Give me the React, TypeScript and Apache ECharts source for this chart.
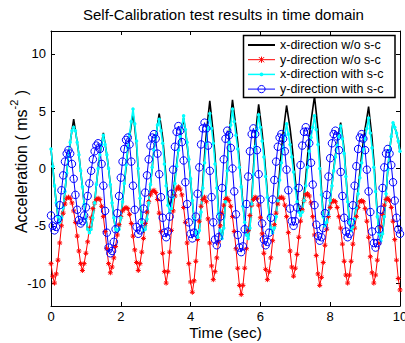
import { useEffect, useRef } from "react";
import * as echarts from "echarts";

// ---- data (sampled every SAMPLE_PERIOD seconds, t = 0 .. 10 s) ----
const SAMPLE_PERIOD = 0.05;
const X_TICKS = [0, 2, 4, 6, 8, 10];
const Y_TICKS = [-10, -5, 0, 5, 10];
const SERIES_NAMES = [
  "x-direction w/o s-c",
  "y-direction w/o s-c",
  "x-direction with s-c",
  "y-direction with s-c",
];

const X_WO_SC = [
  1.7, 0.2, -1.5, -3.0, -4.2, -4.7, -4.3, -3.4, -2.0, -0.4,
  1.1, 2.3, 3.3, 4.3, 3.3, 2.3, 1.2, -0.2, -1.6, -3.1,
  -4.4, -5.3, -5.6, -5.3, -4.3, -3.0, -1.4, 0.0, 1.2, 2.1,
  3.1, 2.1, 1.2, 0.0, -1.4, -3.0, -4.3, -5.3, -5.6, -5.3,
  -4.4, -3.0, -1.4, 0.1, 1.6, 2.7, 3.8, 4.8, 3.6, 2.1,
  -0.2, -2.7, -4.8, -5.6, -5.3, -4.4, -3.0, -1.4, 0.1, 1.6,
  2.7, 3.8, 4.8, 3.8, 2.7, 1.0, -1.0, -2.6, -3.2, -2.9,
  -2.1, -0.9, 0.4, 1.7, 2.7, 3.6, 4.4, 3.3, 2.1, 0.7,
  -1.0, -2.9, -4.4, -5.6, -6.0, -5.3, -3.6, -1.2, 1.1, 3.0,
  4.5, 5.9, 4.5, 3.0, 1.1, -1.3, -3.7, -5.4, -6.1, -5.1,
  -2.7, 0.2, 2.9, 4.5, 6.0, 4.8, 3.6, 2.3, 0.6, -1.3,
  -3.1, -4.6, -5.7, -6.1, -5.2, -2.8, 0.0, 2.6, 4.2, 5.6,
  4.4, 3.1, 1.6, -0.2, -2.2, -3.9, -5.2, -5.6, -5.2, -3.9,
  -2.3, -0.3, 1.5, 3.1, 4.3, 5.5, 4.5, 3.5, 2.2, 0.7,
  -1.0, -2.4, -3.4, -3.8, -3.4, -2.3, -0.8, 1.0, 2.7, 4.1,
  5.2, 6.3, 4.9, 3.4, 0.9, -1.8, -4.1, -5.0, -4.7, -3.9,
  -2.8, -1.4, -0.1, 1.2, 2.2, 3.1, 4.0, 2.9, 1.6, -0.5,
  -2.8, -4.6, -5.4, -5.1, -4.3, -3.2, -1.8, -0.3, 1.1, 2.4,
  3.5, 4.4, 5.4, 4.0, 2.6, 0.7, -1.6, -4.0, -5.6, -6.3,
  -5.7, -4.2, -2.2, -0.1, 1.5, 2.8, 4.0, 3.6, 3.1, 2.4,
  1.5,
];

const Y_WO_SC = [
  -8.3, -9.4, -10.0, -9.2, -8.0, -6.5, -5.0, -3.9, -3.1, -2.6,
  -2.5, -2.6, -3.0, -3.7, -4.7, -5.9, -7.2, -8.3, -8.9, -8.3,
  -7.4, -6.4, -5.2, -4.3, -3.5, -3.0, -2.7, -2.6, -2.7, -3.3,
  -4.2, -5.5, -7.0, -8.3, -9.1, -8.6, -7.8, -6.8, -5.8, -4.9,
  -4.2, -3.7, -3.5, -3.4, -3.5, -4.0, -4.8, -5.9, -7.1, -8.2,
  -8.9, -8.3, -7.3, -6.1, -4.8, -3.8, -2.9, -2.3, -2.0, -1.9,
  -2.1, -2.7, -3.9, -5.5, -7.4, -9.0, -10.0, -9.0, -7.3, -5.4,
  -3.7, -2.4, -1.8, -1.6, -1.8, -2.3, -3.4, -4.7, -6.5, -8.3,
  -9.9, -10.8, -9.8, -8.1, -6.2, -4.6, -3.3, -2.7, -2.5, -2.9,
  -4.4, -6.5, -8.5, -9.7, -9.0, -7.8, -6.4, -5.0, -3.9, -3.2,
  -2.7, -2.6, -2.8, -3.3, -4.2, -5.5, -7.0, -8.7, -10.2, -11.0,
  -10.2, -8.7, -7.0, -5.4, -4.1, -3.2, -2.7, -2.5, -2.6, -3.2,
  -4.3, -5.7, -7.4, -8.8, -9.7, -9.0, -7.8, -6.3, -4.9, -3.9,
  -3.1, -2.6, -2.5, -2.6, -3.2, -4.2, -5.6, -7.2, -8.6, -9.4,
  -8.7, -7.5, -6.0, -4.6, -3.6, -2.8, -2.3, -2.2, -2.4, -3.0,
  -4.2, -5.8, -7.6, -9.2, -10.2, -9.5, -8.2, -6.7, -5.3, -4.2,
  -3.4, -2.9, -2.8, -2.9, -3.4, -4.2, -5.2, -6.6, -8.1, -9.3,
  -10.0, -9.3, -8.1, -6.6, -5.2, -4.2, -3.4, -2.9, -2.8, -2.9,
  -3.5, -4.6, -6.0, -7.7, -9.1, -10.0, -9.3, -8.0, -6.5, -5.1,
  -4.0, -3.2, -2.7, -2.6, -2.8, -3.4, -4.6, -6.2, -8.0, -9.6,
  -10.6,
];

const X_WITH_SC = [
  1.7, 0.2, -1.5, -3.0, -4.2, -4.7, -4.3, -3.4, -2.0, -0.4,
  1.1, 2.3, 3.3, 3.6, 3.3, 2.3, 1.2, -0.2, -1.6, -3.1,
  -4.4, -5.3, -5.6, -5.3, -4.3, -3.0, -1.4, 0.0, 1.2, 2.1,
  2.9, 2.1, 1.2, 0.0, -1.4, -3.0, -4.3, -5.3, -5.4, -5.3,
  -4.3, -2.9, -1.3, 0.3, 1.8, 3.0, 4.1, 5.2, 3.9, 2.4,
  0.0, -2.6, -4.7, -5.4, -5.3, -4.4, -3.0, -1.4, 0.1, 1.6,
  2.7, 3.8, 4.3, 3.3, 2.2, 0.4, -1.5, -3.2, -3.8, -3.5,
  -2.5, -1.3, 0.2, 1.6, 2.8, 3.7, 4.6, 3.4, 2.3, 0.8,
  -0.9, -2.8, -4.4, -5.6, -6.0, -5.4, -3.8, -1.7, 0.5, 2.2,
  3.5, 4.8, 3.5, 2.2, 0.4, -1.7, -3.9, -5.4, -6.1, -5.2,
  -2.9, -0.2, 2.3, 3.8, 5.2, 4.1, 2.9, 1.7, 0.1, -1.6,
  -3.3, -4.7, -5.8, -6.1, -5.2, -3.1, -0.5, 1.9, 3.4, 4.7,
  3.6, 2.4, 1.0, -0.7, -2.5, -4.1, -5.2, -5.6, -5.2, -4.2,
  -2.8, -1.0, 0.5, 1.8, 2.9, 3.9, 3.0, 2.1, 1.0, -0.3,
  -1.7, -2.9, -3.8, -4.1, -3.8, -2.8, -1.5, 0.1, 1.5, 2.7,
  3.6, 4.6, 3.4, 2.1, 0.0, -2.3, -4.2, -5.0, -4.7, -4.0,
  -2.8, -1.5, -0.2, 1.0, 2.0, 2.8, 3.7, 2.6, 1.3, -0.7,
  -2.9, -4.7, -5.4, -5.1, -4.4, -3.4, -2.2, -0.8, 0.5, 1.7,
  2.6, 3.5, 4.4, 3.1, 1.8, 0.1, -2.0, -4.2, -5.7, -6.3,
  -5.7, -4.2, -2.2, -0.1, 1.5, 2.8, 4.0, 3.6, 3.1, 2.4,
  1.5,
];

const Y_WITH_SC = [
  -4.1, -5.0, -5.4, -5.1, -4.4, -3.2, -1.9, -0.6, 0.6, 1.3,
  1.6, 1.3, 0.4, -0.9, -2.3, -3.6, -4.5, -4.8, -4.6, -4.1,
  -3.4, -2.4, -1.3, -0.2, 0.8, 1.5, 2.0, 2.2, 1.7, 0.4,
  -1.5, -3.7, -5.6, -6.9, -7.4, -7.2, -6.4, -5.3, -3.9, -2.4,
  -0.8, 0.6, 1.7, 2.5, 2.7, 2.1, 0.6, -1.5, -3.6, -5.1,
  -5.7, -5.4, -4.7, -3.5, -2.1, -0.6, 0.8, 2.0, 2.7, 3.0,
  2.6, 1.3, -0.5, -2.5, -4.3, -5.6, -6.0, -5.5, -4.2, -2.2,
  -0.1, 1.9, 3.2, 3.7, 3.3, 2.3, 0.7, -1.2, -3.1, -4.7,
  -5.7, -6.1, -5.6, -4.2, -2.2, 0.1, 2.1, 3.5, 4.0, 3.5,
  2.0, -0.2, -2.5, -4.7, -6.2, -6.7, -6.0, -4.2, -1.7, 0.8,
  2.6, 3.3, 2.9, 1.8, 0.0, -2.0, -4.0, -5.8, -6.9, -7.3,
  -6.8, -5.3, -3.1, -0.7, 1.5, 3.0, 3.5, 3.0, 1.6, -0.5,
  -2.7, -4.8, -6.2, -6.7, -6.4, -5.6, -4.3, -2.7, -1.0, 0.6,
  1.9, 2.7, 3.0, 2.6, 1.5, -0.1, -1.9, -3.5, -4.6, -5.0,
  -4.6, -3.4, -1.7, 0.3, 2.0, 3.2, 3.6, 3.2, 2.2, 0.5,
  -1.4, -3.2, -4.9, -5.9, -6.3, -6.0, -5.2, -3.9, -2.3, -0.7,
  0.9, 2.2, 3.0, 3.3, 2.8, 1.6, -0.3, -2.4, -4.3, -5.5,
  -6.0, -5.7, -4.7, -3.2, -1.5, 0.2, 1.7, 2.7, 3.0, 2.6,
  1.6, -0.1, -2.0, -3.8, -5.5, -6.5, -6.9, -6.5, -5.3, -3.6,
  -1.7, 0.1, 1.3, 1.7, 1.3, 0.3, -1.2, -2.8, -4.3, -5.3,
  -5.7,
];

const FONT = "'Liberation Sans', Arial, Helvetica, sans-serif";
const ASTERISK = "path://M1.5,1.5L8.5,8.5M8.5,1.5L1.5,8.5M5,0L5,10M0,5L10,5";
const COLORS = ["#000000", "#ff0000", "#00ffff", "#0000ff"];

function legendGraphic() {
  const Z = 100;
  const els: any[] = [
    {
      type: "rect",
      z: Z,
      shape: { x: 243.5, y: 35.5, width: 151.5, height: 62 },
      style: { fill: "#fff", stroke: "#000", lineWidth: 1.5 },
    },
  ];
  const lineWidths = [2, 1, 1.5, 1];
  SERIES_NAMES.forEach((name, i) => {
    const cy = 45 + 14.7 * i;
    const cx = 261.5;
    els.push({
      type: "line",
      z: Z + 1,
      shape: { x1: 248, y1: cy, x2: 275, y2: cy },
      style: { stroke: COLORS[i], lineWidth: lineWidths[i] },
    });
    if (i === 1) {
      const r = 2.6;
      [
        [cx - r, cy - r, cx + r, cy + r],
        [cx - r, cy + r, cx + r, cy - r],
        [cx, cy - r - 0.5, cx, cy + r + 0.5],
      ].forEach(([x1, y1, x2, y2]) =>
        els.push({
          type: "line",
          z: Z + 2,
          shape: { x1, y1, x2, y2 },
          style: { stroke: COLORS[1], lineWidth: 1 },
        })
      );
    } else if (i === 2) {
      els.push({
        type: "circle",
        z: Z + 2,
        shape: { cx, cy, r: 1.8 },
        style: { fill: COLORS[2], stroke: "none" },
      });
    } else if (i === 3) {
      els.push({
        type: "circle",
        z: Z + 2,
        shape: { cx, cy, r: 3.6 },
        style: { fill: "none", stroke: COLORS[3], lineWidth: 1 },
      });
    }
    els.push({
      type: "text",
      z: Z + 2,
      x: 280,
      y: cy,
      style: {
        text: name,
        fill: "#000",
        font: `12.5px ${FONT}`,
        textVerticalAlign: "middle",
        verticalAlign: "middle",
      },
    });
  });
  return els;
}

export default function App() {
  const ref = useRef<HTMLDivElement>(null);

  useEffect(() => {
    document.body.style.margin = "0";
    const chart = echarts.init(ref.current as HTMLDivElement, null, { renderer: "svg" });
    const time = X_WO_SC.map((_, i) => Math.round(i * SAMPLE_PERIOD * 100) / 100);
    const pts = (arr: number[]) => arr.map((v, i) => [time[i], v]);

    const axisLine = { show: true, onZero: false, lineStyle: { color: "#000", width: 1 } };
    const tick = { show: true, inside: true, length: 4, lineStyle: { color: "#000", width: 1 } };

    chart.setOption({
      animation: false,
      backgroundColor: "#fff",
      title: {
        text: "Self-Calibration test results in time domain",
        left: 83,
        top: 7,
        padding: 0,
        textStyle: { fontSize: 15, fontWeight: "normal", color: "#000", fontFamily: FONT },
      },
      grid: { left: 51, right: 5, top: 31, bottom: 37, containLabel: false, outerBoundsMode: "none" },
      xAxis: [
        {
          type: "value",
          min: 0,
          max: 10,
          interval: 2,
          position: "bottom",
          axisLine,
          axisTick: tick,
          axisLabel: { color: "#000", fontSize: 13, margin: 4, fontFamily: FONT, customValues: X_TICKS },
          splitLine: { show: false },
          name: "Time (sec)",
          nameLocation: "middle",
          nameGap: 18,
          nameMoveOverlap: false,
          nameTextStyle: { fontSize: 15.5, color: "#000", fontFamily: FONT },
        },
        {
          type: "value",
          min: 0,
          max: 10,
          interval: 2,
          position: "top",
          axisLine,
          axisTick: tick,
          axisLabel: { show: false },
          splitLine: { show: false },
        },
      ],
      yAxis: [
        {
          type: "value",
          min: -12,
          max: 12,
          position: "left",
          axisLine,
          axisTick: { ...tick, customValues: Y_TICKS },
          axisLabel: { color: "#000", fontSize: 13, margin: 5, fontFamily: FONT, customValues: Y_TICKS },
          splitLine: { show: false },
          name: "{a|Acceleration ( ms}{b|-2}{a| )}",
          nameLocation: "middle",
          nameGap: 22,
          nameMoveOverlap: false,
          nameTextStyle: {
            color: "#000",
            fontFamily: FONT,
            fontSize: 16,
            padding: [0, 0, 0, 14],
            rich: {
              a: { fontSize: 16, fontFamily: FONT, color: "#000", verticalAlign: "bottom", lineHeight: 21 },
              b: { fontSize: 11, fontFamily: FONT, color: "#000", verticalAlign: "top", lineHeight: 21 },
            },
          },
        },
        {
          type: "value",
          min: -12,
          max: 12,
          position: "right",
          axisLine,
          axisTick: { ...tick, customValues: Y_TICKS },
          axisLabel: { show: false },
          splitLine: { show: false },
        },
      ],
      graphic: legendGraphic(),
      series: [
        {
          name: SERIES_NAMES[0],
          type: "line",
          data: pts(X_WO_SC),
          showSymbol: false,
          symbol: "none",
          lineStyle: { color: COLORS[0], width: 1.6 },
          itemStyle: { color: COLORS[0] },
          silent: true,
        },
        {
          name: SERIES_NAMES[1],
          type: "line",
          data: pts(Y_WO_SC),
          symbol: ASTERISK,
          symbolSize: 5,
          showAllSymbol: true,
          lineStyle: { color: COLORS[1], width: 1 },
          itemStyle: { color: "rgba(0,0,0,0)", borderColor: COLORS[1], borderWidth: 1 },
          silent: true,
        },
        {
          name: SERIES_NAMES[2],
          type: "line",
          data: pts(X_WITH_SC),
          symbol: "circle",
          symbolSize: 3.5,
          showAllSymbol: true,
          lineStyle: { color: COLORS[2], width: 1.6 },
          itemStyle: { color: COLORS[2], borderWidth: 0 },
          silent: true,
        },
        {
          name: SERIES_NAMES[3],
          type: "line",
          data: pts(Y_WITH_SC),
          symbol: "circle",
          symbolSize: 7.5,
          showAllSymbol: true,
          lineStyle: { color: COLORS[3], width: 1 },
          itemStyle: { color: "rgba(0,0,0,0)", borderColor: COLORS[3], borderWidth: 1 },
          silent: true,
        },
      ],
    });

    return () => chart.dispose();
  }, []);

  return <div ref={ref} style={{ width: 405, height: 343, background: "#fff" }} />;
}
